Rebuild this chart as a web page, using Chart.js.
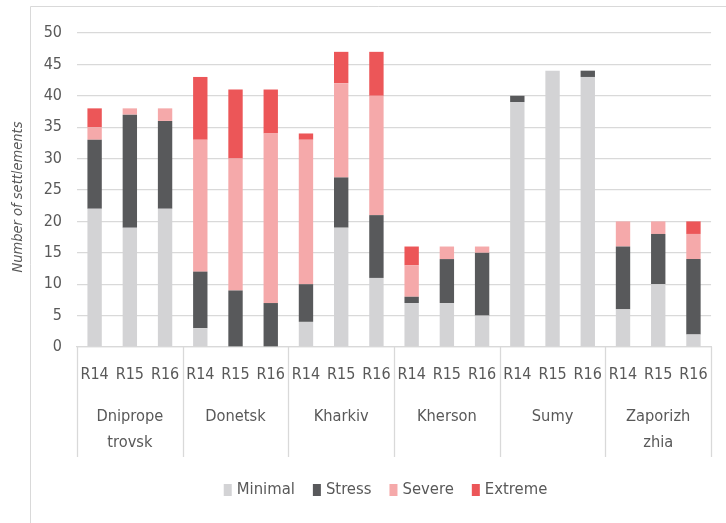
<!DOCTYPE html>
<html>
<head>
<meta charset="utf-8">
<script src="https://cdn.jsdelivr.net/npm/chart.js@4.4.1/dist/chart.umd.min.js"></script>
<style>
  html, body { margin: 0; padding: 0; background: #fff; }
  #wrap { width: 726px; height: 523px; position: relative; }
</style>
</head>
<body>
<div id="wrap"><canvas id="settlementChart" width="726" height="523"></canvas></div>
<script>
// regions and rounds (two level category axis)
var regions = [["Dniprope", "trovsk"], ["Donetsk"], ["Kharkiv"], ["Kherson"], ["Sumy"], ["Zaporizh", "zhia"]];
var rounds = ["R14", "R15", "R16"];

// number of settlements per severity, 3 rounds per region
var minimal = [22, 19, 22,  3, 0, 0,  4, 19, 11,  7, 7, 5,  39, 44, 43,  6, 10, 2];
var stress  = [11, 18, 14,  9, 9, 7,  6,  8, 10,  1, 7, 10,  1,  0,  1,  10, 8, 12];
var severe  = [ 2,  1,  2, 21, 21, 27, 23, 15, 19, 5, 2, 1,   0,  0,  0,  4, 2, 4];
var extreme = [ 3,  0,  0, 10, 11, 7,  1,  5,  7,  3, 0, 0,   0,  0,  0,  0, 0, 2];

var yTicks = [0, 5, 10, 15, 20, 25, 30, 35, 40, 45, 50];
var yTitle = 'Number of settlements';

var textColor = '#595959';
var lineColor = '#d9d9d9';
var fontFamily = "'DejaVu Sans Condensed', 'Liberation Sans Narrow', sans-serif";

var labels = [];
regions.forEach(function(region) {
  rounds.forEach(function(round) {
    labels.push(round);
  });
});

// draws frame, y title, region separators / names and the legend
var decorPlugin = {
  id: 'decor',
  beforeDraw: function(chart) {
    var ctx = chart.ctx;
    ctx.save();
    ctx.strokeStyle = lineColor;
    ctx.lineWidth = 1;
    ctx.beginPath();
    ctx.moveTo(30.5, 523);
    ctx.lineTo(30.5, 6.5);
    ctx.lineTo(726, 6.5);
    ctx.stroke();

    ctx.translate(18, 197);
    ctx.rotate(-Math.PI / 2);
    ctx.fillStyle = textColor;
    ctx.font = 'italic 14.5px ' + fontFamily;
    ctx.textAlign = 'center';
    ctx.textBaseline = 'middle';
    ctx.fillText(yTitle, 0, 0);
    ctx.restore();
  },
  afterDraw: function(chart) {
    var ctx = chart.ctx;
    var xScale = chart.scales.x;
    var area = chart.chartArea;
    var per = rounds.length;
    var half = (xScale.getPixelForValue(1) - xScale.getPixelForValue(0)) / 2;

    ctx.save();
    ctx.strokeStyle = lineColor;
    ctx.lineWidth = 1.3;
    for (var g = 0; g <= regions.length; g++) {
      var x;
      if (g < regions.length) {
        x = xScale.getPixelForValue(g * per) - half;
      } else {
        x = xScale.getPixelForValue(g * per - 1) + half;
      }
      x = Math.round(x) + 0.5;
      ctx.beginPath();
      ctx.moveTo(x, area.bottom);
      ctx.lineTo(x, area.bottom + 110);
      ctx.stroke();
    }

    ctx.fillStyle = textColor;
    ctx.font = '16.3px ' + fontFamily;
    ctx.textAlign = 'center';
    ctx.textBaseline = 'middle';
    regions.forEach(function(name, g) {
      var cx = (xScale.getPixelForValue(g * per) + xScale.getPixelForValue(g * per + per - 1)) / 2;
      name.forEach(function(line, i) {
        ctx.fillText(line, cx, area.bottom + 70 + i * 26);
      });
    });

    // legend
    var items = chart.data.datasets;
    var boxW = 8, boxH = 12, gap = 5, spacing = 18;
    ctx.font = '16.5px ' + fontFamily;
    var total = 0;
    var widths = items.map(function(ds) {
      var w = ctx.measureText(ds.label).width;
      total += boxW + gap + w;
      return w;
    });
    total += spacing * (items.length - 1);
    var lx = 385.5 - total / 2;
    var ly = 490;
    ctx.textAlign = 'left';
    items.forEach(function(ds, i) {
      ctx.fillStyle = ds.backgroundColor;
      ctx.fillRect(lx, ly - boxH / 2, boxW, boxH);
      ctx.fillStyle = textColor;
      ctx.fillText(ds.label, lx + boxW + gap, ly);
      lx += boxW + gap + widths[i] + spacing;
    });
    ctx.restore();
  }
};

var ctx = document.getElementById('settlementChart');
var settlementChart = new Chart(ctx, {
  type: 'bar',
  data: {
    labels: labels,
    datasets: [
      { label: 'Minimal', data: minimal, backgroundColor: '#d3d3d5' },
      { label: 'Stress', data: stress, backgroundColor: '#58595b' },
      { label: 'Severe', data: severe, backgroundColor: '#f5a9aa' },
      { label: 'Extreme', data: extreme, backgroundColor: '#ec5658' }
    ]
  },
  options: {
    responsive: false,
    animation: false,
    layout: { padding: { left: 0, right: 14, top: 33, bottom: 66 } },
    datasets: { bar: { categoryPercentage: 0.8, barPercentage: 0.51 } },
    plugins: {
      legend: { display: false },
      tooltip: { enabled: false }
    },
    scales: {
      x: {
        stacked: true,
        grid: { display: false, drawTicks: false },
        border: { display: true, color: lineColor, width: 1.3 },
        ticks: { color: textColor, font: { family: fontFamily, size: 16 }, padding: 18, maxRotation: 0, autoSkip: false },
        afterFit: function(scale) { scale.height = 110; }
      },
      y: {
        stacked: true,
        min: 0,
        max: 50,
        afterBuildTicks: function(scale) {
          scale.ticks = yTicks.map(function(v) { return { value: v }; });
        },
        grid: { color: lineColor, lineWidth: 1.3, drawTicks: false },
        border: { display: false },
        ticks: { color: textColor, font: { family: fontFamily, size: 16 }, padding: 15 },
        afterFit: function(scale) { scale.width = 77; }
      }
    }
  },
  plugins: [decorPlugin]
});
</script>
</body>
</html>
